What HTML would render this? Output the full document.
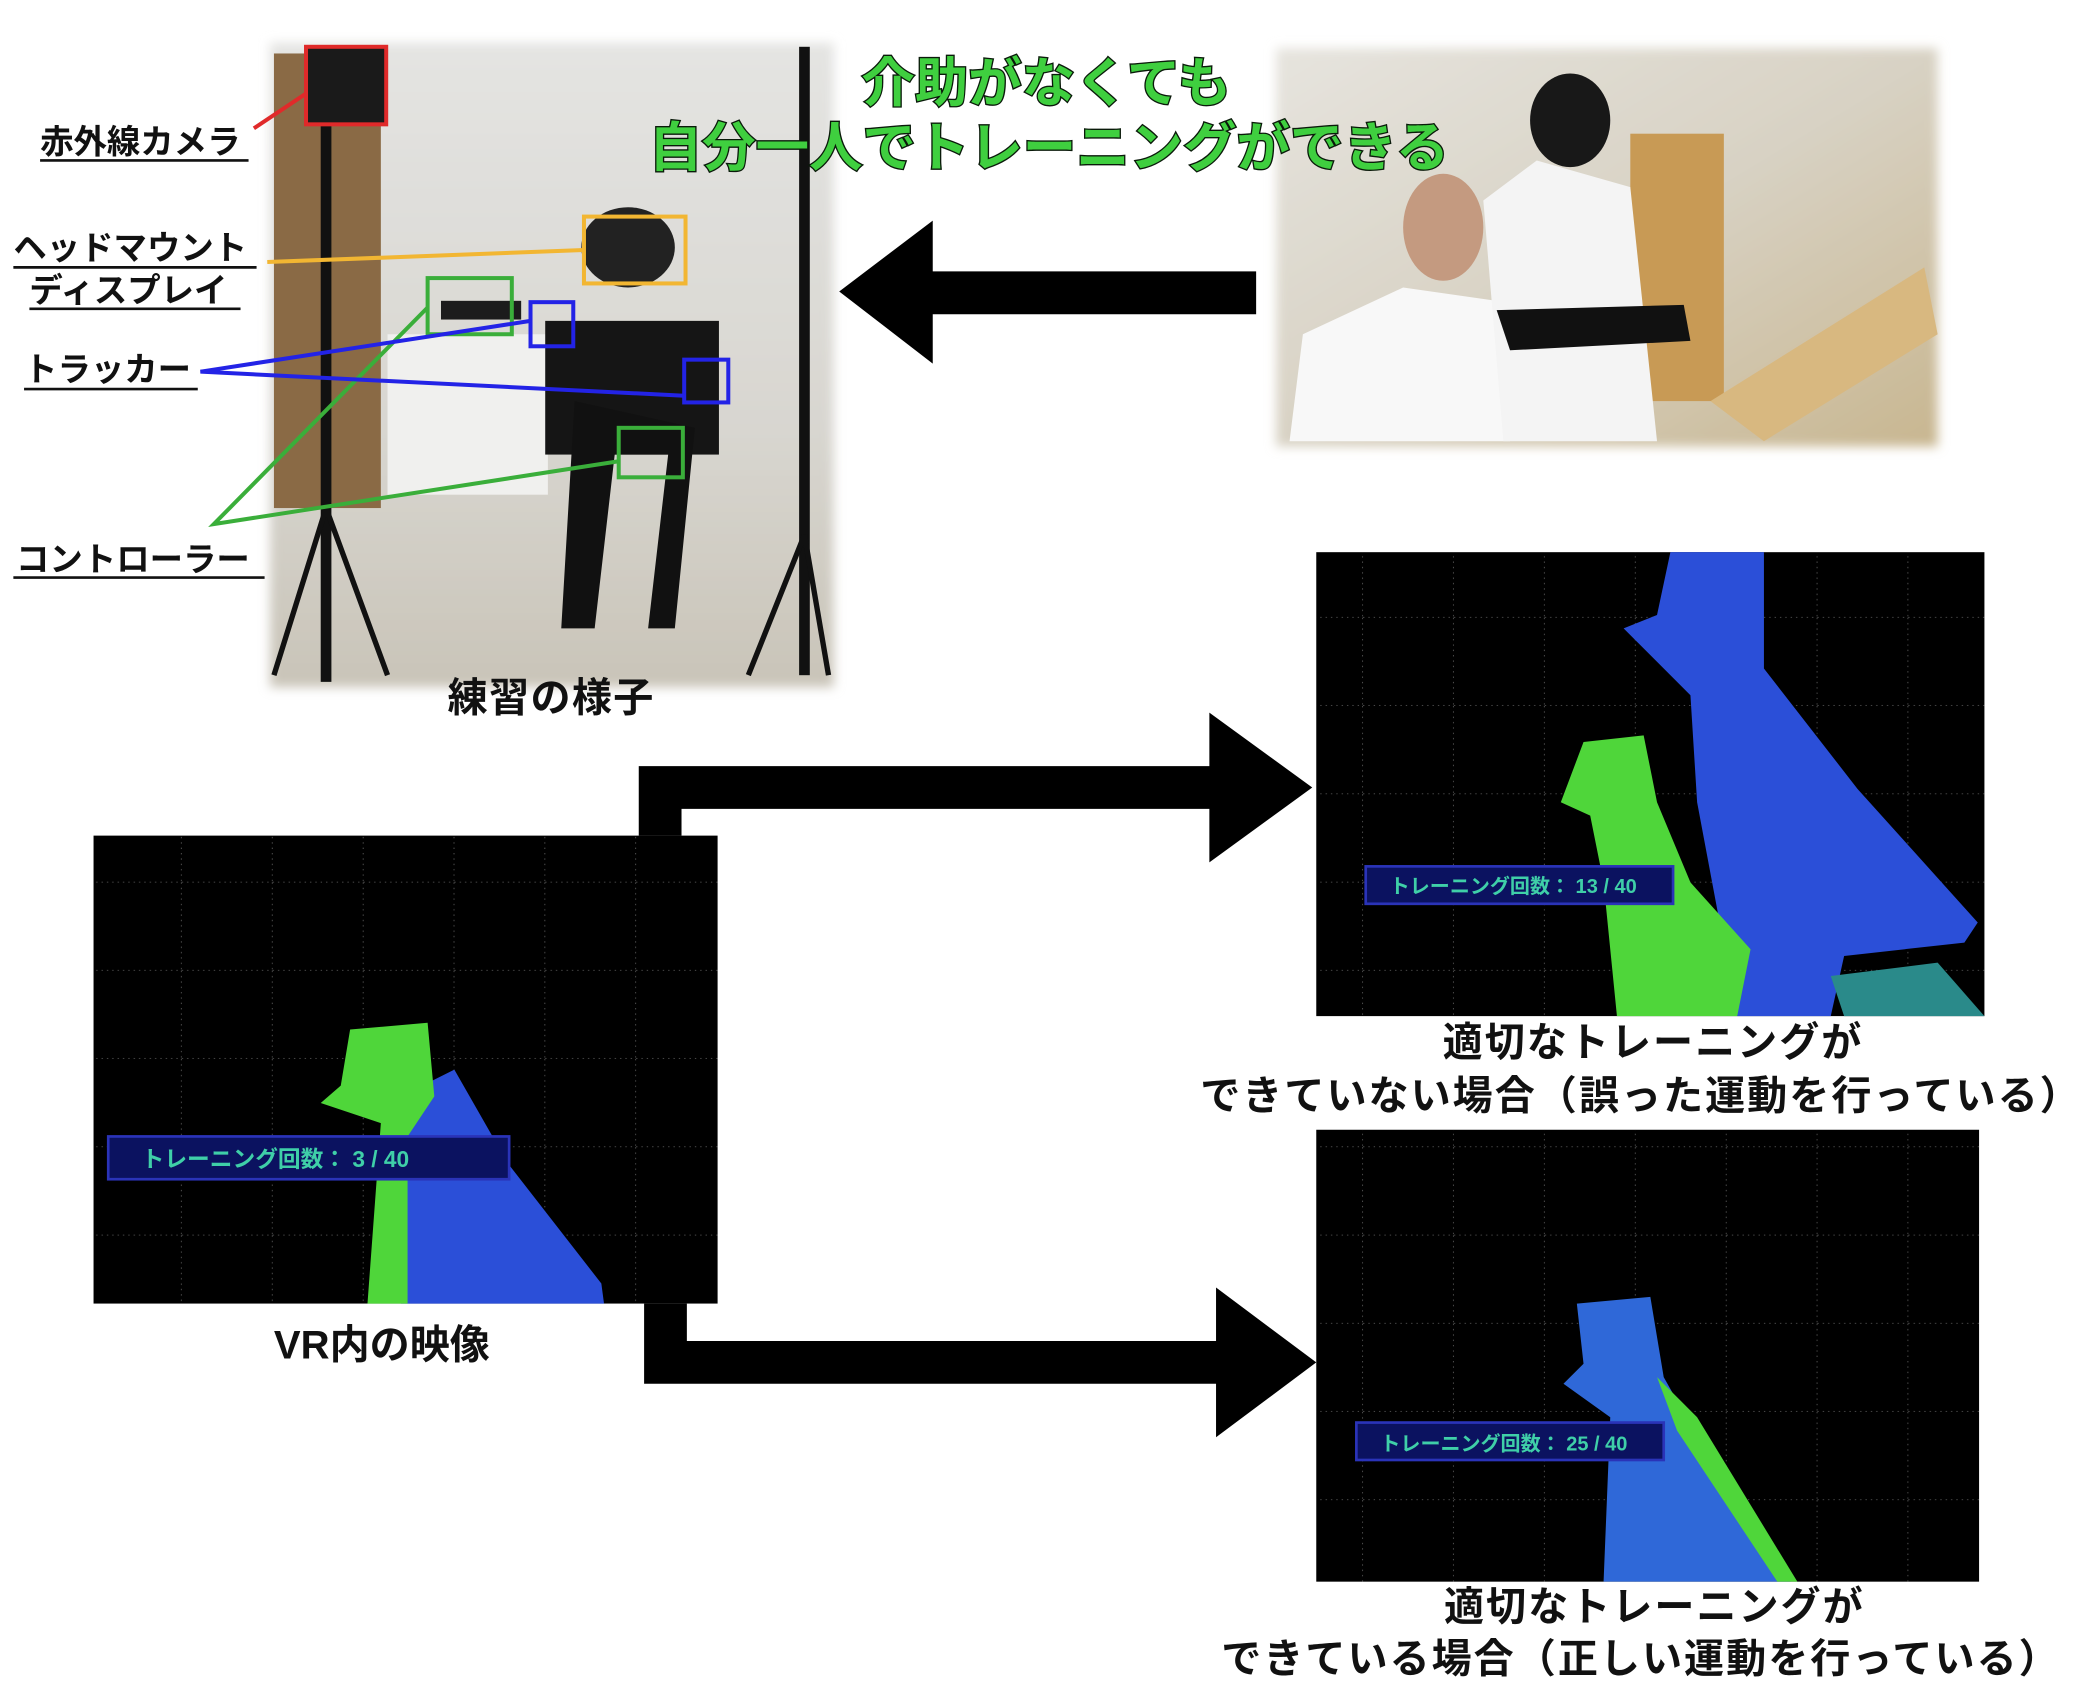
<!DOCTYPE html>
<html><head><meta charset="utf-8"><style>
html,body{margin:0;padding:0;background:#fff;}
svg{display:block;}
text{font-family:"Liberation Sans","Noto Sans CJK JP",sans-serif;font-weight:bold;}
</style></head><body>
<svg width="2094" height="1706" viewBox="0 0 1567 1276" preserveAspectRatio="none" xmlns="http://www.w3.org/2000/svg">
<defs>
<linearGradient id="room" x1="0" y1="0" x2="0" y2="1"><stop offset="0" stop-color="#e4e4e2"/><stop offset="0.6" stop-color="#d8d6d0"/><stop offset="1" stop-color="#c9c4b8"/></linearGradient>
<linearGradient id="room2" x1="0" y1="0" x2="1" y2="1"><stop offset="0" stop-color="#e6e4de"/><stop offset="0.5" stop-color="#d8d2c4"/><stop offset="1" stop-color="#c8b690"/></linearGradient>
<pattern id="grid" width="68" height="66" patternUnits="userSpaceOnUse"><path d="M68 0V66M0 66H68" stroke="#777" stroke-width="1" stroke-dasharray="1,3" fill="none"/></pattern>
<filter id="soft"><feGaussianBlur stdDeviation="4"/></filter>
</defs>
<rect width="1567" height="1276" fill="#fff"/>
<!-- left photo -->
<rect x="202" y="32" width="422" height="482" fill="url(#room)" filter="url(#soft)"/>
<rect x="205" y="40" width="80" height="340" fill="#8a6a45"/>
<rect x="290" y="250" width="120" height="120" fill="#f0f0ee"/>
<rect x="240" y="40" width="8" height="470" fill="#111"/>
<rect x="598" y="35" width="8" height="470" fill="#111"/>
<path d="M244 380 L205 505 M244 380 L290 505 M602 400 L560 505 M602 400 L620 505" stroke="#111" stroke-width="4"/>
<rect x="408" y="240" width="130" height="100" fill="#151515"/>
<path d="M430 300 L420 470 L445 470 L460 340 L500 340 L485 470 L505 470 L520 320 Z" fill="#111"/>
<ellipse cx="470" cy="185" rx="35" ry="30" fill="#222"/>
<rect x="330" y="225" width="60" height="14" fill="#1c1c1c"/>
<!-- annotation boxes -->
<rect x="229" y="35" width="60" height="58" fill="#1a1a1a" stroke="#e02a2a" stroke-width="3"/>
<line x1="190" y1="96" x2="229" y2="70" stroke="#e02a2a" stroke-width="3"/>
<rect x="437" y="162" width="76" height="50" fill="none" stroke="#f2b632" stroke-width="3"/>
<line x1="200" y1="196" x2="437" y2="187" stroke="#f2b632" stroke-width="3"/>
<rect x="320" y="208" width="63" height="42" fill="none" stroke="#3aae3a" stroke-width="3"/>
<rect x="463" y="320" width="48" height="37" fill="none" stroke="#3aae3a" stroke-width="3"/>
<path d="M320 230 L160 392 L463 345" fill="none" stroke="#3aae3a" stroke-width="3"/>
<rect x="397" y="226" width="32" height="33" fill="none" stroke="#2323e6" stroke-width="3"/>
<rect x="512" y="269" width="33" height="32" fill="none" stroke="#2323e6" stroke-width="3"/>
<path d="M397 240 L150 278 L512 296" fill="none" stroke="#2323e6" stroke-width="3"/>
<!-- labels -->
<g font-size="25" fill="#111">
<text x="30" y="115">赤外線カメラ</text><line x1="30" y1="120" x2="186" y2="120" stroke="#111" stroke-width="2"/>
<text x="10" y="194">ヘッドマウント</text><line x1="10" y1="200" x2="192" y2="200" stroke="#111" stroke-width="2"/>
<text x="22" y="226">ディスプレイ</text><line x1="22" y1="231" x2="180" y2="231" stroke="#111" stroke-width="2"/>
<text x="18" y="285">トラッカー</text><line x1="18" y1="291" x2="148" y2="291" stroke="#111" stroke-width="2"/>
<text x="12" y="427">コントローラー</text><line x1="10" y1="432" x2="198" y2="432" stroke="#111" stroke-width="2"/>
<text x="335" y="532" font-size="30" letter-spacing="1">練習の様子</text>
</g>
<!-- right photo -->
<rect x="955" y="36" width="495" height="298" fill="url(#room2)" filter="url(#soft)"/>
<rect x="1220" y="100" width="70" height="200" fill="#c89a55"/>
<path d="M965 330 L975 250 L1050 215 L1120 225 L1130 330 Z" fill="#f8f8f8"/>
<ellipse cx="1080" cy="170" rx="30" ry="40" fill="#c49a80"/>
<path d="M1110 150 L1150 120 L1220 140 L1240 330 L1125 330 Z" fill="#f4f4f4"/>
<ellipse cx="1175" cy="90" rx="30" ry="35" fill="#181818"/>
<path d="M1120 232 L1260 228 L1265 255 L1130 262 Z" fill="#111"/>
<path d="M1280 300 L1440 200 L1450 250 L1320 330 Z" fill="#d8b880"/>
<!-- title -->
<g font-size="40" fill="#3fcf3f" stroke="#0a1a0a" stroke-width="2" paint-order="stroke">
<text x="783" y="76" text-anchor="middle">介助がなくても</text>
<text x="785" y="124" text-anchor="middle">自分一人でトレーニングができる</text>
</g>
<!-- left arrow -->
<path d="M628 218 L698 165 L698 203 L940 203 L940 235 L698 235 L698 272 Z" fill="#000"/>
<!-- connector arrows -->
<path d="M478 625 L478 573 L905 573 L905 533 L982 589 L905 645 L905 605 L510 605 L510 625 Z" fill="#000"/>
<path d="M482 975 L514 975 L514 1003 L910 1003 L910 963 L985 1019 L910 1075 L910 1035 L482 1035 Z" fill="#000"/>
<!-- VR panel left -->
<rect x="70" y="625" width="467" height="350" fill="#000"/>
<rect x="70" y="625" width="467" height="350" fill="url(#grid)"/>
<path d="M300 820 L340 800 L380 870 L450 960 L452 975 L300 975 Z" fill="#2b4fd8"/>
<path d="M275 975 L285 840 L240 825 L255 812 L262 770 L320 765 L325 820 L305 850 L305 975 Z" fill="#4fd63a"/>
<rect x="81" y="850" width="300" height="32" fill="#0b1260" stroke="#2a33b8" stroke-width="2"/>
<text x="106" y="873" font-size="17" fill="#3fcfa8" font-weight="normal">トレーニング回数：  3    / 40</text>
<text x="205" y="1016" font-size="30" fill="#111">VR内の映像</text>
<!-- VR panel top right -->
<rect x="985" y="413" width="500" height="347" fill="#000"/>
<rect x="985" y="413" width="500" height="347" fill="url(#grid)"/>
<path d="M1255 413 L1320 413 L1320 500 L1390 590 L1480 690 L1470 705 L1380 715 L1370 760 L1300 760 L1270 600 L1265 520 L1215 470 L1240 460 L1250 413 Z" fill="#2b4fd8"/>
<path d="M1210 760 L1200 660 L1190 610 L1168 600 L1185 555 L1230 550 L1240 600 L1265 660 L1310 710 L1300 760 Z" fill="#4fd63a"/>
<path d="M1370 730 L1450 720 L1485 760 L1380 760 Z" fill="#2a8a8a"/>
<rect x="1022" y="648" width="230" height="28" fill="#0b1260" stroke="#2a33b8" stroke-width="2"/>
<text x="1040" y="668" font-size="15" fill="#3fcfa8" font-weight="normal">トレーニング回数：  13 / 40</text>
<g font-size="30" fill="#111" letter-spacing="1.5">
<text x="1237" y="790" text-anchor="middle">適切なトレーニングが</text>
<text x="1228" y="830" text-anchor="middle">できていない場合（誤った運動を行っている）</text>
</g>
<!-- VR panel bottom right -->
<rect x="985" y="845" width="496" height="338" fill="#000"/>
<rect x="985" y="845" width="496" height="338" fill="url(#grid)"/>
<path d="M1200 1183 L1205 1060 L1170 1035 L1185 1020 L1180 975 L1235 970 L1245 1030 L1290 1110 L1340 1183 Z" fill="#2f68d8"/>
<path d="M1240 1030 L1270 1060 L1345 1183 L1330 1183 L1255 1070 Z" fill="#4fd63a"/>
<rect x="1015" y="1064" width="230" height="28" fill="#0b1260" stroke="#2a33b8" stroke-width="2"/>
<text x="1033" y="1085" font-size="15" fill="#3fcfa8" font-weight="normal">トレーニング回数：  25 / 40</text>
<g font-size="30" fill="#111" letter-spacing="1.5">
<text x="1238" y="1212" text-anchor="middle">適切なトレーニングが</text>
<text x="1228" y="1251" text-anchor="middle">できている場合（正しい運動を行っている）</text>
</g>
</svg>
</body></html>
